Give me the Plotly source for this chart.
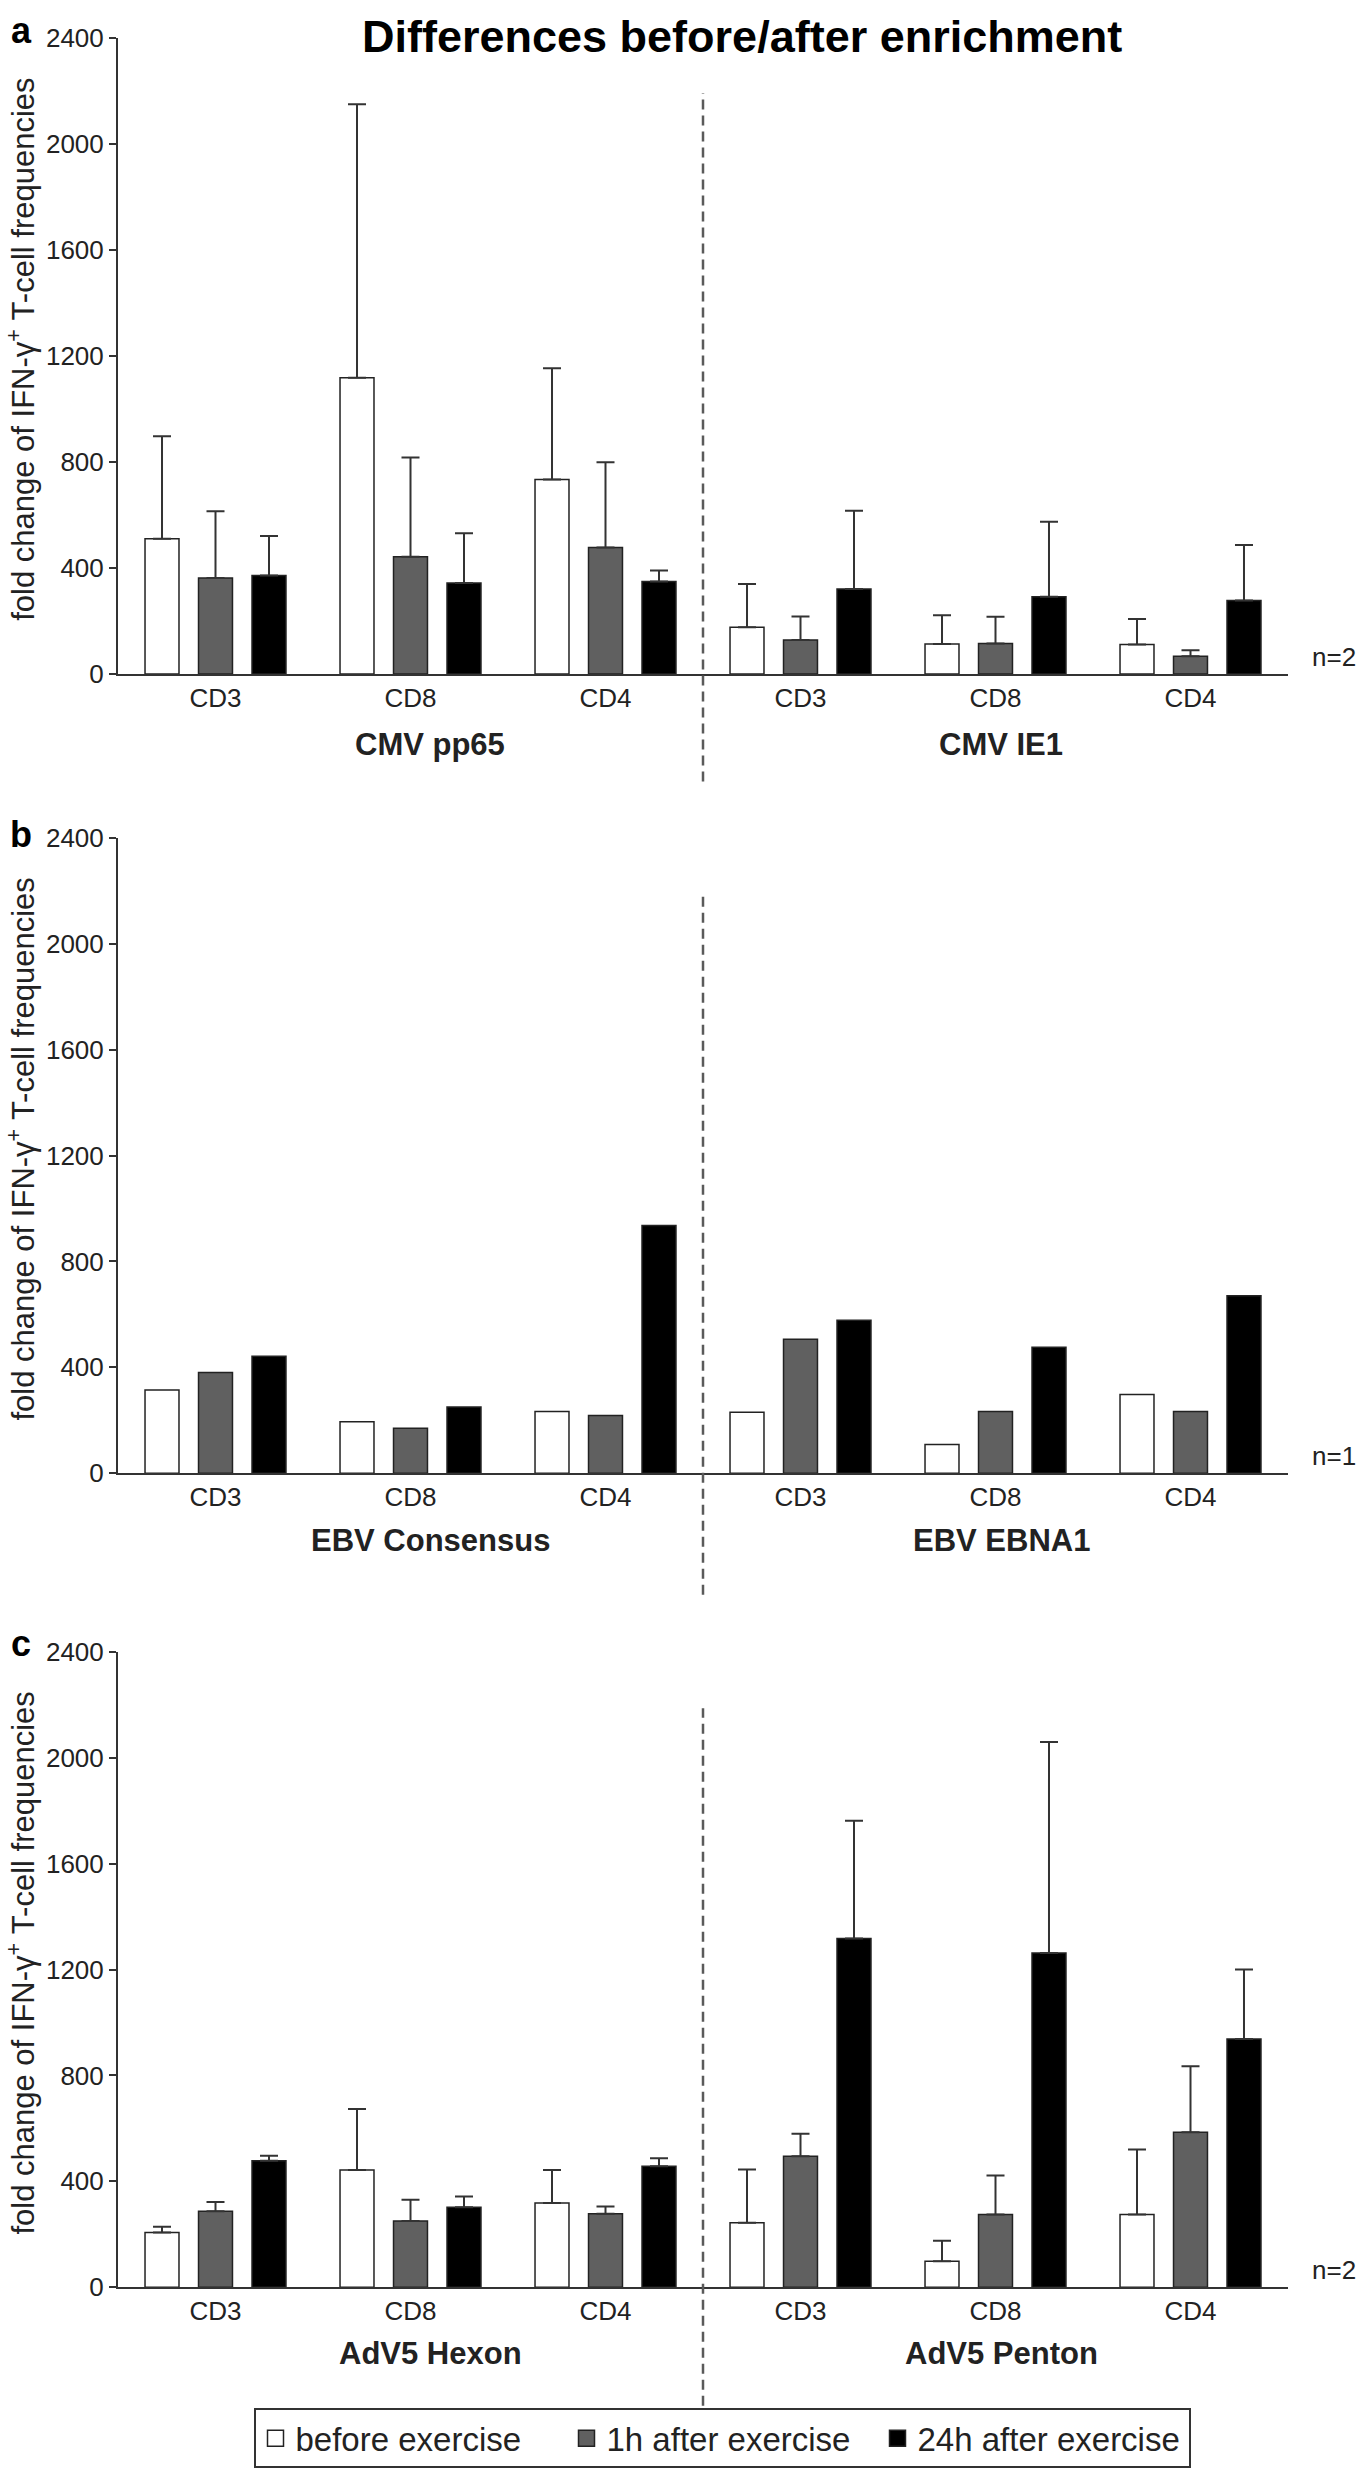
import plotly.graph_objects as go

# ---------------- data ----------------
positions = [0, 1, 2, 3, 4, 5]
cell_labels = ["CD3", "CD8", "CD4", "CD3", "CD8", "CD4"]
y_ticks = [0, 400, 800, 1200, 1600, 2000, 2400]
series_names = ["before exercise", "1h after exercise", "24h after exercise"]

# panel a: CMV pp65 (first 3) / CMV IE1 (last 3), n=2
cmv_before = [510, 1117, 733, 176, 113, 111]
cmv_before_sd = [387, 1032, 420, 163, 108, 96]
cmv_1h = [362, 442, 477, 128, 115, 67]
cmv_1h_sd = [252, 374, 322, 89, 101, 22]
cmv_24h = [371, 343, 349, 320, 291, 277]
cmv_24h_sd = [149, 188, 41, 296, 283, 209]

# panel b: EBV Consensus / EBV EBNA1, n=1
ebv_before = [314, 194, 233, 230, 108, 297]
ebv_1h = [380, 170, 218, 506, 233, 233]
ebv_24h = [442, 250, 936, 578, 476, 670]

# panel c: AdV5 Hexon / AdV5 Penton, n=2
adv_before = [207, 443, 318, 243, 98, 275]
adv_before_sd = [21, 230, 125, 202, 77, 245]
adv_1h = [287, 250, 277, 495, 275, 585]
adv_1h_sd = [35, 80, 28, 85, 147, 250]
adv_24h = [478, 302, 457, 1317, 1263, 938]
adv_24h_sd = [19, 41, 30, 445, 797, 262]

group_labels = [("CMV pp65", "CMV IE1"), ("EBV Consensus", "EBV EBNA1"), ("AdV5 Hexon", "AdV5 Penton")]
n_labels = ["n=2", "n=1", "n=2"]
panel_letters = ["a", "b", "c"]
title_text = "Differences before/after enrichment"
ylabel_text = "fold change of IFN-\u03b3<sup>+</sup> T-cell frequencies"

# ---------------- style ----------------
FONT = "Liberation Sans, Arial, Helvetica, sans-serif"
INK = "#222222"
fills = ["#ffffff", "#606060", "#000000"]
W, H = 1358, 2481

panels = [
    dict(vals=[cmv_before, cmv_1h, cmv_24h], sds=[cmv_before_sd, cmv_1h_sd, cmv_24h_sd]),
    dict(vals=[ebv_before, ebv_1h, ebv_24h], sds=None),
    dict(vals=[adv_before, adv_1h, adv_24h], sds=[adv_before_sd, adv_1h_sd, adv_24h_sd]),
]

x_dom = [118 / W, 1288 / W]
y_doms_px = [(23, 667), (833, 1476), (1657, 2300)]
y_doms = [[1 - b / H, 1 - t / H] for (t, b) in y_doms_px]
dash_px = [(79, 776), (891, 1599), (1714, 2420)]
letter_px = [16, 830, 1648]
label_shift = [-71, -67, -66]

fig = go.Figure()
layout = dict(
    width=W, height=H,
    margin=dict(l=0, r=0, t=0, b=0),
    paper_bgcolor="white", plot_bgcolor="white",
    barmode="group", bargap=0.177, bargroupgap=0.365,
    font=dict(family=FONT, color=INK),
    showlegend=True,
    legend=dict(orientation="h", x=722 / W, xanchor="center", y=1 - 2453 / H, yanchor="middle",
                bordercolor="#333333", borderwidth=2, bgcolor="white",
                font=dict(size=33, family=FONT, color=INK),
                entrywidth=266, entrywidthmode="pixels", itemwidth=30, traceorder="normal"),
)
annotations = []
shapes = []

for p, panel in enumerate(panels):
    sfx = "" if p == 0 else str(p + 1)
    xa, ya = "x" + sfx, "y" + sfx
    for s in range(3):
        err = None
        if panel["sds"] is not None:
            err = dict(type="data", array=panel["sds"][s], arrayminus=[0] * 6, symmetric=False,
                       color="#333333", thickness=2, width=9, visible=True)
        fig.add_trace(go.Bar(
            x=positions, y=panel["vals"][s], name=series_names[s],
            marker=dict(color=fills[s], line=dict(color=INK, width=1.5)),
            error_y=err, xaxis=xa, yaxis=ya,
            legendgroup=series_names[s], showlegend=False,
        ))
    layout["xaxis" + sfx] = dict(
        domain=x_dom, anchor=ya, range=[-0.5, 5.5], tickvals=positions, ticktext=cell_labels,
        showline=True, linecolor="#333333", linewidth=2, ticks="", showgrid=False, zeroline=False,
        tickfont=dict(size=26, family=FONT, color=INK), fixedrange=True)
    layout["yaxis" + sfx] = dict(
        domain=y_doms[p], anchor=xa, range=[0, 2400], tickvals=y_ticks,
        showline=True, linecolor="#333333", linewidth=2, ticks="outside", ticklen=7, tickwidth=2,
        tickcolor="#333333", showgrid=False, zeroline=False,
        tickfont=dict(size=26, family=FONT, color=INK), fixedrange=True)

    # dashed separator between the two antigens
    shapes.append(dict(type="line", xref=xa, yref="paper", x0=2.5, x1=2.5,
                       y0=1 - dash_px[p][1] / H, y1=1 - dash_px[p][0] / H,
                       line=dict(color="#5a5a5a", width=2.5, dash="10px,6px")))
    # antigen labels
    for k, xpos in enumerate([1.1, 4.03]):
        annotations.append(dict(text="<b>%s</b>" % group_labels[p][k], xref=xa, x=xpos,
                                yref=ya + " domain", y=0, yanchor="middle", yshift=label_shift[p],
                                showarrow=False, font=dict(size=31, family=FONT, color=INK)))
    # n label
    annotations.append(dict(text=n_labels[p], xref="paper", x=1310 / W, xanchor="left",
                            yref=ya, y=0, yanchor="bottom", showarrow=False,
                            font=dict(size=26, family=FONT, color=INK)))
    # y axis title
    annotations.append(dict(text=ylabel_text, xref="paper", x=21 / W, xanchor="center",
                            yref=ya + " domain", y=0.5, yanchor="middle", yshift=6, textangle=-90,
                            showarrow=False, font=dict(size=31, family=FONT, color=INK)))
    # panel letter
    annotations.append(dict(text="<b>%s</b>" % panel_letters[p], xref="paper", x=21 / W,
                            xanchor="center", yref="paper", y=1 - letter_px[p] / H, yanchor="middle",
                            showarrow=False, font=dict(size=36, family=FONT, color="#000000")))

# legend entries with larger square swatches (one per series)
for s in range(3):
    fig.add_trace(go.Scatter(
        x=[None], y=[None], mode="markers", name=series_names[s], legendgroup=series_names[s],
        marker=dict(symbol="square", size=16, color=fills[s], line=dict(color=INK, width=1.5)),
        xaxis="x3", yaxis="y3", showlegend=True, hoverinfo="skip"))

annotations.append(dict(text="<b>%s</b>" % title_text, xref="paper", x=742 / W, xanchor="center",
                        yref="paper", y=1 - 22 / H, yanchor="middle", showarrow=False,
                        font=dict(size=45, family=FONT, color="#000000")))

layout["annotations"] = annotations
layout["shapes"] = shapes
fig.update_layout(**layout)
fig.write_html("out.html", config={"displayModeBar": False},
               post_script="document.body.style.margin='0';")
